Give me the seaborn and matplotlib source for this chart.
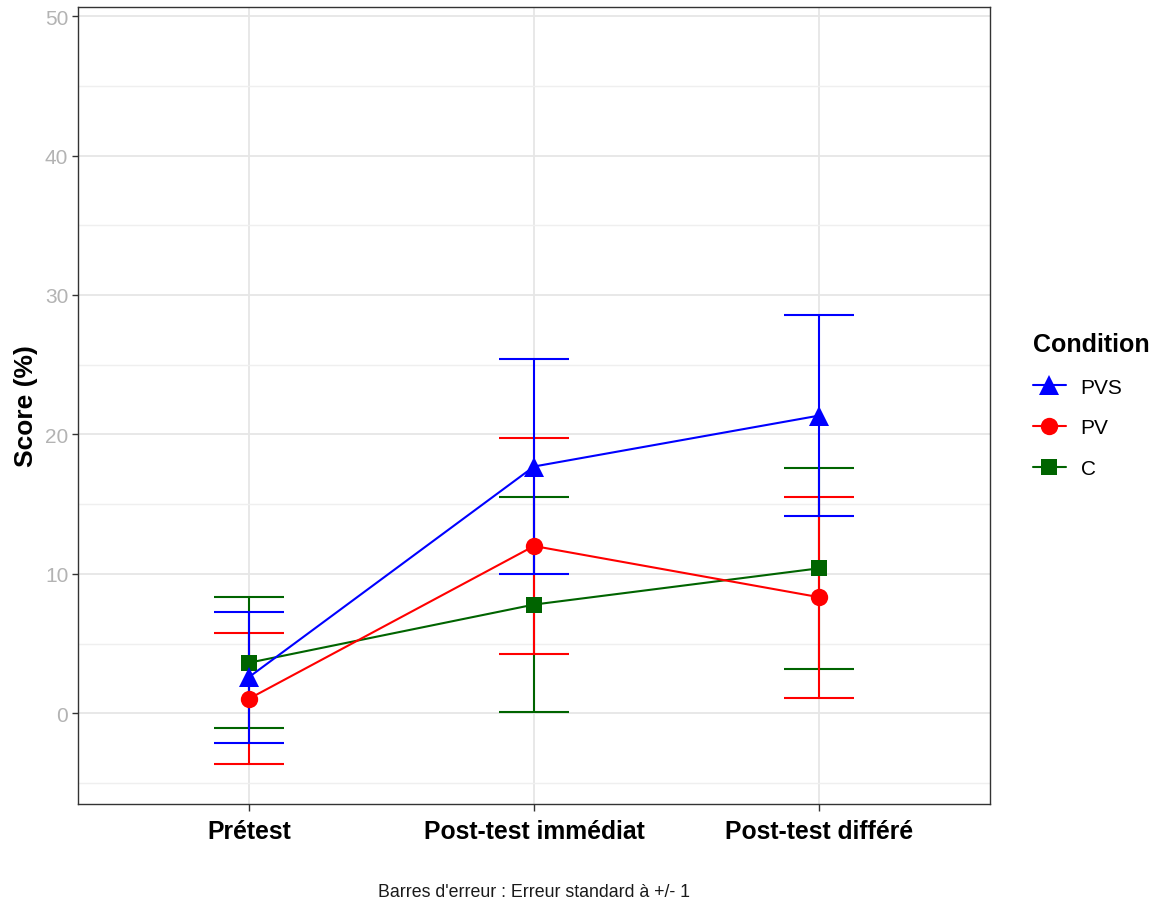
import matplotlib
matplotlib.use("Agg")
import matplotlib.pyplot as plt
from matplotlib.lines import Line2D
import numpy as np
import pandas as pd
import seaborn as sns

# Mean scores (%) and standard errors per test moment
moments = ["Prétest", "Post-test immédiat", "Post-test différé"]
conditions = ["PVS", "PV", "C"]
pvs_mean = [2.6, 17.7, 21.35]
pvs_se = [4.7, 7.73, 7.2]
pv_mean = [1.05, 12.0, 8.33]
pv_se = [4.71, 7.71, 7.2]
c_mean = [3.63, 7.8, 10.4]
c_se = [4.71, 7.72, 7.2]

colors = {"PVS": "#0000FF", "PV": "#FF0000", "C": "#006400"}
markers = {"PVS": "^", "PV": "o", "C": "s"}
msizes = {"PVS": 14.5, "PV": 12.5, "C": 11.5}

df = pd.DataFrame({
    "Moment": np.tile(moments, len(conditions)),
    "Condition": np.repeat(conditions, len(moments)),
    "Score": pvs_mean + pv_mean + c_mean,
    "SE": pvs_se + pv_se + c_se,
})

sns.set_theme(style="white")
plt.rcParams["font.family"] = ["Liberation Sans", "DejaVu Sans"]
plt.rcParams["text.color"] = "black"
plt.rcParams["axes.labelcolor"] = "black"

fig = plt.figure(figsize=(11.54, 9.03), dpi=100)
ax = fig.add_axes([78 / 1154, 1 - 805 / 903, (990 - 78) / 1154, (805 - 8) / 903])

draw_order = ["C", "PV", "PVS"]

# Error bars (+/- 1 SE), drawn beneath lines and points
xpos = np.arange(len(moments))
for cond in draw_order:
    sub = df[df["Condition"] == cond]
    ax.errorbar(xpos, sub["Score"], yerr=sub["SE"], fmt="none",
                ecolor=colors[cond], elinewidth=1.5, capsize=25.5,
                capthick=1.5, zorder=2)

sns.pointplot(data=df, x="Moment", y="Score", hue="Condition",
              order=moments, hue_order=draw_order,
              palette=colors, markers=[markers[c] for c in draw_order],
              linestyles="-", errorbar=None, dodge=False, legend=False,
              linewidth=1.5, ax=ax)

# Per-condition marker sizes
for line, cond in zip(ax.lines[-len(draw_order):], draw_order):
    line.set_markersize(msizes[cond])
    line.set_markeredgewidth(0)
    line.set_zorder(3)

ax.set_xlim(-0.6, 2.6)
ax.set_ylim(-6.5, 50.65)
ax.set_yticks([0, 10, 20, 30, 40, 50])
ax.set_yticks([-5, 5, 15, 25, 35, 45], minor=True)
ax.set_xticks(xpos)
ax.set_xticklabels(moments, fontsize=17.8, fontweight="bold", color="black")
ax.tick_params(axis="y", which="major", labelsize=15, labelcolor="#B3B3B3",
               color="#333333", length=4, width=1, left=True, pad=3)
ax.tick_params(axis="y", which="minor", length=0)
ax.tick_params(axis="x", which="major", color="#333333", length=5, width=1,
               bottom=True, pad=6)

ax.grid(True, which="major", color="#E6E6E6", linewidth=1.3)
ax.grid(True, which="minor", axis="y", color="#EFEFEF", linewidth=1.0)
ax.set_axisbelow(True)
for sp in ax.spines.values():
    sp.set_color("#333333")
    sp.set_linewidth(1.0)

ax.set_xlabel("")
ax.set_ylabel("Score (%)", fontsize=19, fontweight="bold", labelpad=5,
              color="black")

handles = [Line2D([], [], color=colors[c], marker=markers[c],
                  markersize=msizes[c], markeredgewidth=0, linewidth=1.5)
           for c in conditions]
leg = ax.legend(handles, conditions, title="Condition",
                loc="upper left", bbox_to_anchor=(1014 / 1154, 1 - 314 / 903),
                bbox_transform=fig.transFigure, frameon=False,
                fontsize=15, title_fontsize=18, handlelength=1.6,
                handletextpad=0.7, labelspacing=1.05, alignment="left")
leg.get_title().set_fontweight("bold")
leg.get_title().set_color("black")
for t in leg.get_texts():
    t.set_color("black")

fig.text((78 + 990) / 2 / 1154, 1 - 893 / 903,
         "Barres d'erreur : Erreur standard à +/- 1",
         ha="center", va="center", fontsize=12.8, color="#1A1A1A")

fig.savefig("out.png", dpi=100)
